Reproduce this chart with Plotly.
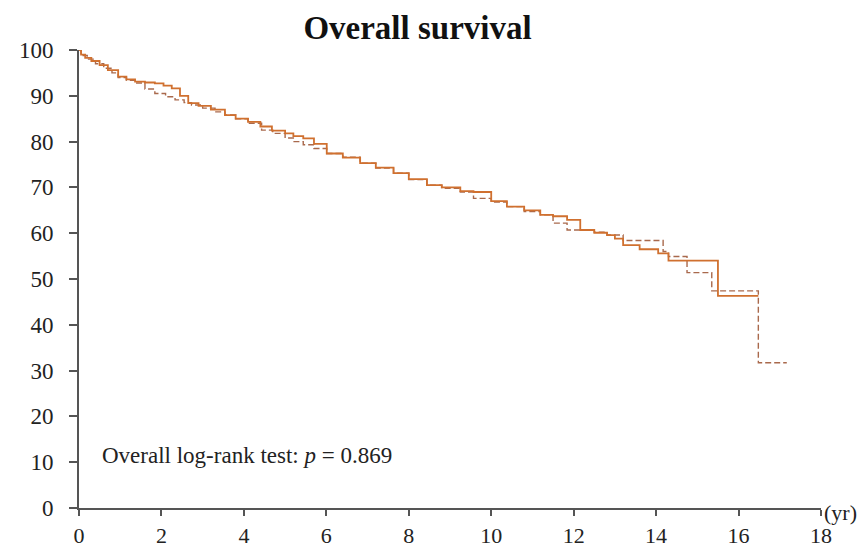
import plotly.graph_objects as go

# Kaplan-Meier style survival estimates (years, % surviving)
solid_t = [0, 0.05, 0.15, 0.3, 0.5, 0.7, 0.95, 1.15, 1.36, 1.6, 1.84, 2.05, 2.25, 2.45, 2.65, 2.9,
           3.2, 3.54, 3.8, 4.1, 4.4, 4.68, 5.0, 5.2, 5.44, 5.7, 6.01, 6.4, 6.82, 7.2, 7.63, 8.0,
           8.44, 8.8, 9.25, 9.57, 10.0, 10.38, 10.8, 11.19, 11.5, 11.84, 12.16, 12.5, 12.81, 13.0,
           13.2, 13.6, 14.05, 14.3, 15.5, 16.48]
solid_s = [100, 99.0, 98.3, 97.6, 96.7, 95.6, 94.2, 93.6, 93.1, 92.9, 92.7, 92.2, 91.6, 90.0, 88.4, 87.8,
           87.0, 85.8, 85.0, 84.3, 83.3, 82.4, 81.8, 81.2, 80.7, 79.5, 77.4, 76.5, 75.3, 74.3, 73.1, 71.8,
           70.5, 70.0, 69.2, 69.0, 67.0, 65.8, 65.0, 64.0, 63.7, 62.9, 60.7, 60.1, 59.6, 58.8,
           57.4, 56.5, 55.6, 54.0, 46.3, 46.3]

dash_t = [0, 0.05, 0.2, 0.4, 0.6, 0.8, 0.95, 1.15, 1.36, 1.6, 1.84, 2.1, 2.33, 2.55, 2.73, 3.0,
          3.3, 3.54, 3.8, 4.1, 4.43, 4.7, 5.0, 5.2, 5.44, 5.7, 6.01, 6.4, 6.82, 7.2, 7.63, 8.0,
          8.44, 8.8, 9.25, 9.57, 10.0, 10.38, 10.8, 11.19, 11.5, 11.84, 12.16, 12.5, 12.81, 13.2,
          14.17, 14.3, 14.75, 15.35, 16.48, 17.17]
dash_s = [100, 98.8, 98.0, 97.0, 96.0, 95.0, 94.0, 93.4, 92.8, 91.5, 90.5, 89.8, 89.1, 88.5, 88.0, 87.3,
          86.5, 85.8, 85.0, 84.0, 82.5, 81.8, 80.8, 80.0, 79.3, 78.5, 77.4, 76.6, 75.3, 74.2, 73.1, 71.7,
          70.5, 69.8, 69.0, 67.6, 66.8, 65.8, 64.7, 64.0, 62.2, 60.7, 60.7, 60.2, 59.6, 58.4,
          56.0, 54.9, 51.4, 47.4, 31.7, 31.7]

x_ticks = [0, 2, 4, 6, 8, 10, 12, 14, 16, 18]
y_ticks = [0, 10, 20, 30, 40, 50, 60, 70, 80, 90, 100]

FONT = "Liberation Serif"

fig = go.Figure()
fig.add_trace(go.Scatter(x=dash_t, y=dash_s, mode="lines", line_shape="hv",
                         line=dict(color="#A9694C", width=1.4, dash="6px,3px"), showlegend=False))
fig.add_trace(go.Scatter(x=solid_t, y=solid_s, mode="lines", line_shape="hv",
                         line=dict(color="#D0702F", width=1.8), showlegend=False))

fig.update_layout(
    width=868, height=552,
    margin=dict(l=79, r=47, t=50, b=44, autoexpand=False),
    paper_bgcolor="white", plot_bgcolor="white",
    font=dict(family=FONT, color="#222222"),
    title=dict(text="<b>Overall survival</b>", x=0.481, xanchor="center", y=0.951, yanchor="middle",
               font=dict(family=FONT, size=33, color="#111111")),
    xaxis=dict(range=[0, 18], tickvals=x_ticks, showgrid=False, zeroline=False,
               showline=True, linecolor="#555555", linewidth=2, automargin=False,
               ticks="outside", ticklen=6, tickwidth=2, tickcolor="#555555",
               ticklabelstandoff=1,
               tickfont=dict(family=FONT, size=22, color="#222222")),
    yaxis=dict(range=[0, 100], tickvals=y_ticks, showgrid=False, zeroline=False,
               showline=True, linecolor="#555555", linewidth=2, automargin=False,
               ticks="outside", ticklen=8, tickwidth=2, tickcolor="#555555",
               ticklabelstandoff=11,
               tickfont=dict(family=FONT, size=23, color="#222222")),
    shapes=[dict(type="line", xref="paper", yref="paper", x0=-0.012, x1=0, y0=0, y1=0,
                 line=dict(color="#555555", width=2))],
    annotations=[
        dict(text="Overall log-rank test: <i>p</i> = 0.869", xref="paper", yref="paper",
             x=0.028, y=0.114, xanchor="left", yanchor="middle", showarrow=False,
             font=dict(family=FONT, size=23, color="#222222")),
        dict(text="(yr)", xref="paper", yref="paper", x=1.001, y=-0.01, xanchor="left",
             yanchor="middle", showarrow=False,
             font=dict(family=FONT, size=22, color="#222222")),
    ],
)

fig.write_html("out.html")
